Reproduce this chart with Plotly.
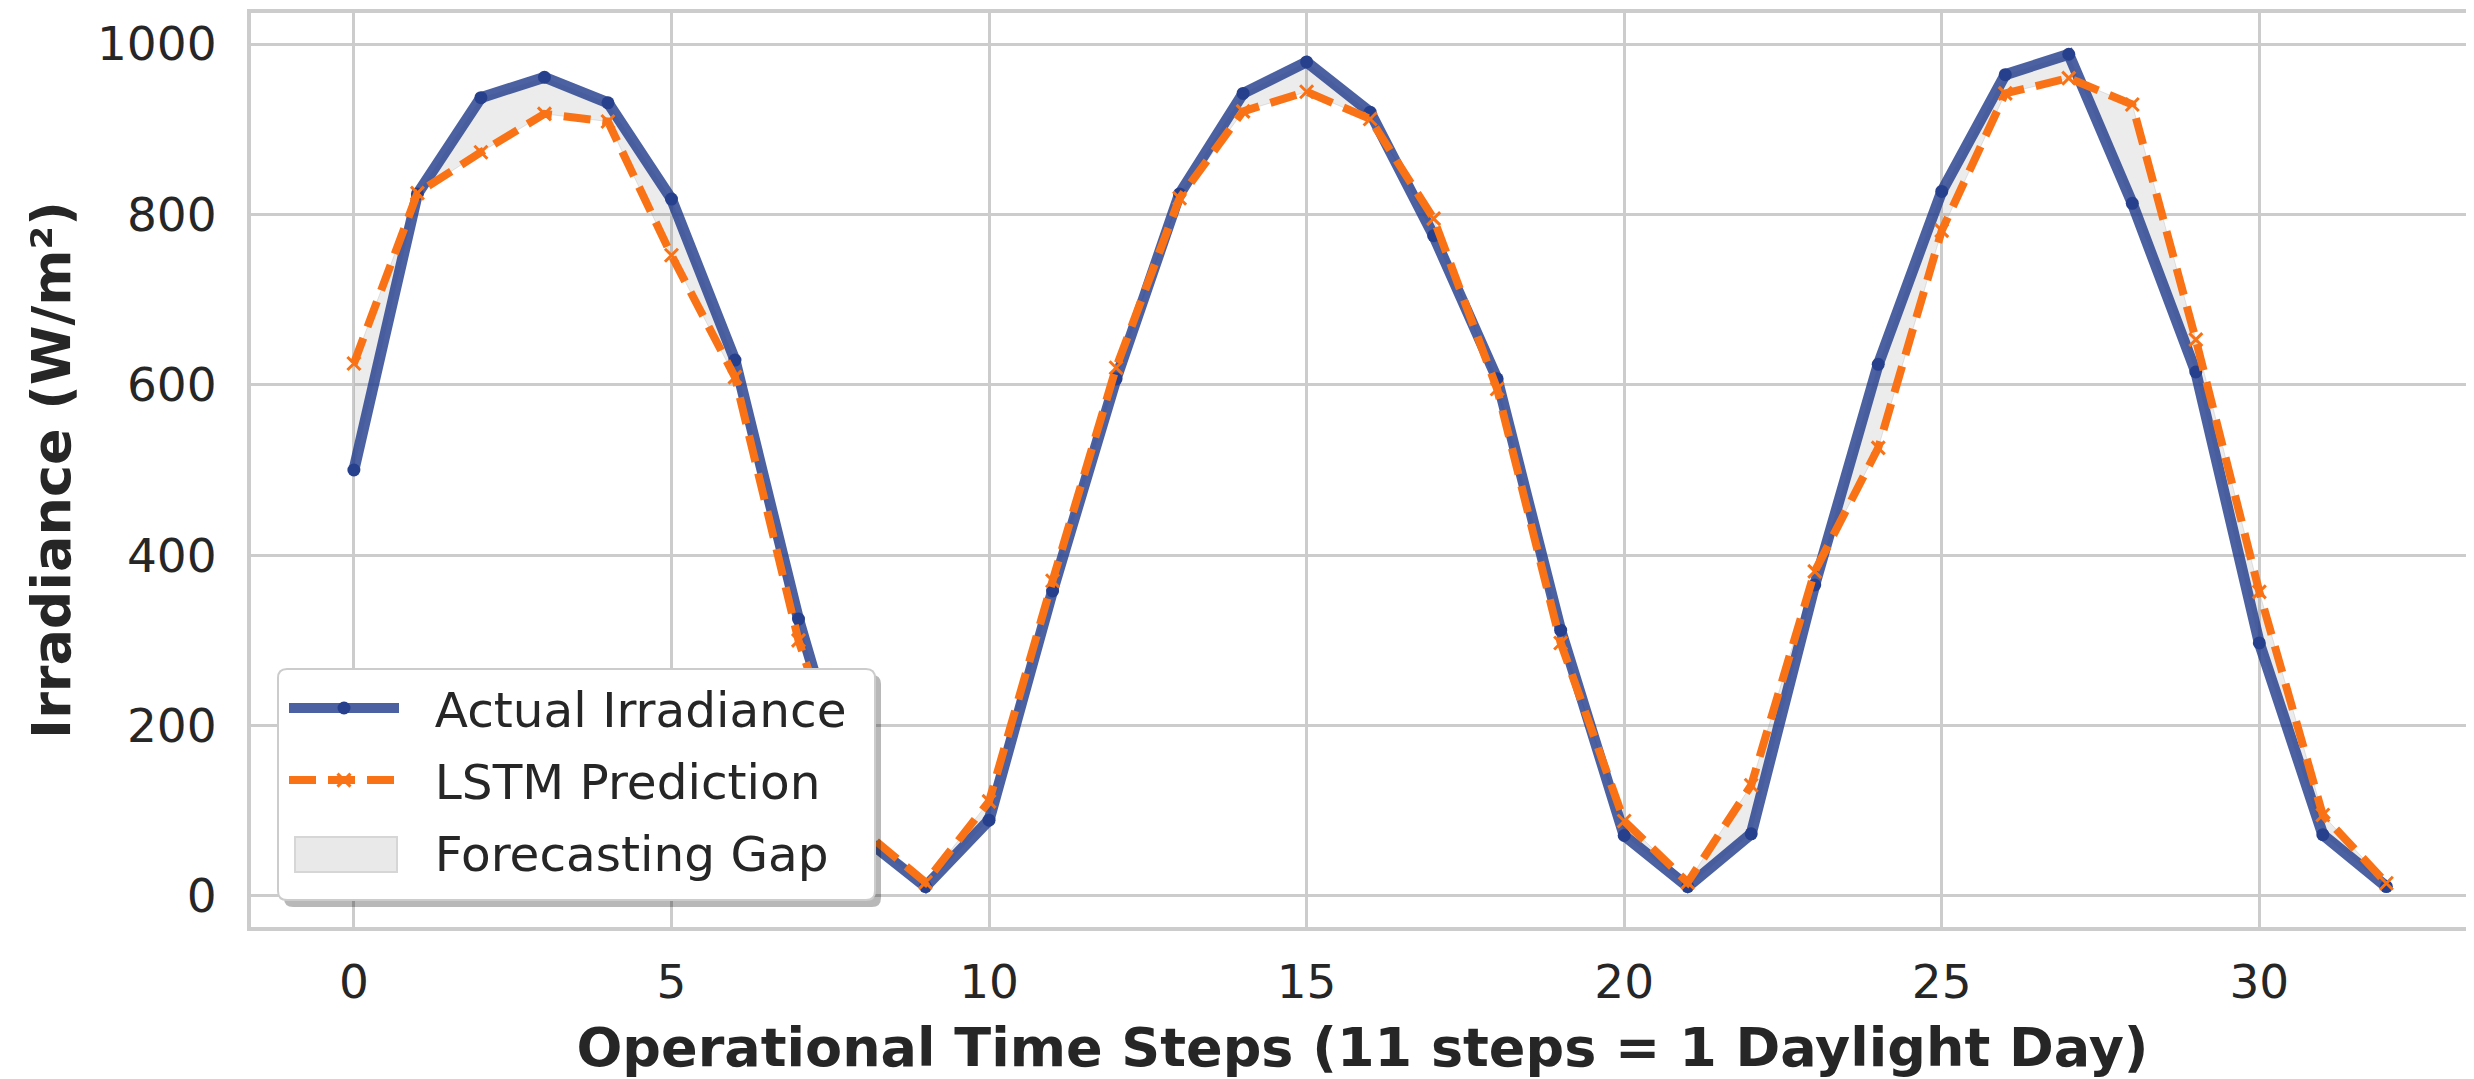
import plotly.graph_objects as go

steps = list(range(33))
actual = [500, 824, 937, 961, 931, 818, 629, 325, 70, 11, 89, 358, 607, 824, 942, 979, 920,
          775, 607, 312, 71, 11, 73, 365, 624, 827, 964, 988, 813, 615, 297, 72, 11]
pred = [625, 825, 873, 918, 909, 752, 609, 300, 78, 16, 111, 370, 620, 819, 921, 944, 912,
        795, 595, 297, 88, 16, 130, 381, 526, 781, 942, 960, 929, 653, 357, 95, 15]
x_ticks = [0, 5, 10, 15, 20, 25, 30]
y_ticks = [0, 200, 400, 600, 800, 1000]

FONT = "DejaVu Sans"
TXT = "#262626"
GRID = "#cccccc"
OFF = 8  # default page body margin
W, H = 2474 - OFF, 1079 - OFF
ML, MR, MT = 251 - OFF, 0, 13 - OFF
PW, PH = W - ML - MR, 914
MB = H - MT - PH
NB = "\u00a0\u00a0"


def px_x(px):
    return (px - OFF - ML) / PW


def px_y(py):
    return (MT + PH - (py - OFF)) / PH


def rounded_rect(x0, y0, x1, y1, r):
    X = px_x
    Y = px_y
    return (f"M{X(x0 + r)},{Y(y0)} L{X(x1 - r)},{Y(y0)} Q{X(x1)},{Y(y0)} {X(x1)},{Y(y0 + r)} "
            f"L{X(x1)},{Y(y1 - r)} Q{X(x1)},{Y(y1)} {X(x1 - r)},{Y(y1)} "
            f"L{X(x0 + r)},{Y(y1)} Q{X(x0)},{Y(y1)} {X(x0)},{Y(y1 - r)} "
            f"L{X(x0)},{Y(y0 + r)} Q{X(x0)},{Y(y0)} {X(x0 + r)},{Y(y0)} Z")


fig = go.Figure()
# forecasting gap (fill between)
fig.add_trace(go.Scatter(x=steps, y=actual, mode="lines", line=dict(width=0, color="rgba(0,0,0,0)"),
                         showlegend=False, hoverinfo="skip"))
fig.add_trace(go.Scatter(x=steps, y=pred, mode="lines", fill="tonexty",
                         fillcolor="rgba(128,128,128,0.15)",
                         line=dict(width=1, color="rgba(128,128,128,0.2)"),
                         showlegend=False, hoverinfo="skip"))
fig.add_trace(go.Scatter(x=steps, y=actual, mode="lines+markers", name=NB + "Actual Irradiance",
                         line=dict(color="rgba(30,58,138,0.8)", width=11),
                         marker=dict(color="#27408e", size=13, symbol="circle"),
                         legendrank=1, legendgroup="a"))
fig.add_trace(go.Scatter(x=steps, y=pred, mode="lines+markers", name=NB + "LSTM Prediction",
                         line=dict(color="#f97316", width=8, dash="27px,12px"),
                         marker=dict(color="#f97316", size=13, symbol="x-thin",
                                     line=dict(color="#f97316", width=3)),
                         legendrank=2, legendgroup="b"))
# legend entry for the gap (swatch drawn as a shape)
fig.add_trace(go.Scatter(x=[None], y=[None], mode="lines", line=dict(width=0, color="rgba(0,0,0,0)"),
                         name=NB + "Forecasting Gap", legendrank=3, legendgroup="c"))

shapes = [
    dict(type="path", xref="paper", yref="paper", layer="above",
         path=rounded_rect(284, 675, 881, 907, 9), fillcolor="rgba(0,0,0,0.28)", line=dict(width=0)),
    dict(type="path", xref="paper", yref="paper", layer="above",
         path=rounded_rect(278, 669, 875, 900, 9), fillcolor="white", line=dict(color="#cccccc", width=2)),
    dict(type="rect", xref="paper", yref="paper", layer="above",
         x0=px_x(295), x1=px_x(397), y0=px_y(837), y1=px_y(872),
         fillcolor="#e9e9e9", line=dict(color="#d6d6d6", width=2)),
]

fig.update_layout(
    width=W, height=H,
    margin=dict(l=ML, r=MR, t=MT, b=MB),
    paper_bgcolor="white", plot_bgcolor="white",
    font=dict(family=FONT, color=TXT, size=47),
    shapes=shapes,
    legend=dict(x=px_x(284), y=px_y(670), xanchor="left", yanchor="top",
                bgcolor="rgba(0,0,0,0)", borderwidth=0, tracegroupgap=6,
                font=dict(family=FONT, size=48.5, color=TXT),
                itemwidth=110, traceorder="grouped"),
)
fig.update_xaxes(range=[-1.62, 33.38], tickvals=x_ticks, showgrid=True, gridcolor=GRID, gridwidth=3,
                 zeroline=False, showline=True, linecolor=GRID, linewidth=4, mirror=True,
                 ticks="", ticklabelstandoff=11, automargin=False,
                 tickfont=dict(family=FONT, size=47, color=TXT),
                 title=dict(text="Operational Time Steps (11 steps = 1 Daylight Day)",
                            font=dict(family=FONT, size=54, color=TXT, weight="bold"), standoff=26))
fig.update_yaxes(range=[-36.4, 1036.4], tickvals=y_ticks, showgrid=True, gridcolor=GRID, gridwidth=3,
                 zeroline=False, showline=True, linecolor=GRID, linewidth=4, mirror=False,
                 ticks="", ticklabelstandoff=21, automargin=False,
                 tickfont=dict(family=FONT, size=47, color=TXT),
                 title=dict(text="Irradiance (W/m²)",
                            font=dict(family=FONT, size=54, color=TXT, weight="bold"), standoff=10))

fig.write_html("out.html")
